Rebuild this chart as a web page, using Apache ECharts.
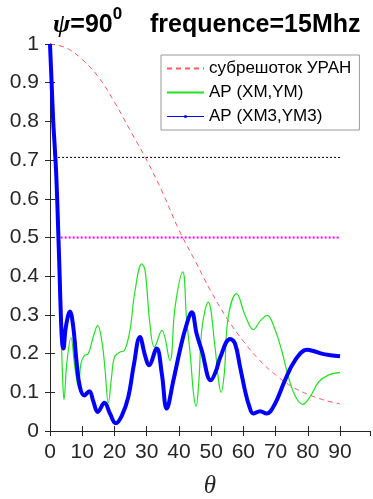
<!DOCTYPE html>
<html>
<head>
<meta charset="utf-8">
<script src="https://cdn.jsdelivr.net/npm/echarts@6/dist/echarts.min.js"></script>
<style>
  html, body { margin: 0; padding: 0; background: #fff; }
  #chart { width: 373px; height: 499px; }
</style>
</head>
<body>
<div id="chart"></div>
<script>
// subarray URAN pattern (red dashed)
const thetaUran = [0, 5, 10, 15, 20, 25, 30, 35, 40, 45, 50, 55, 60, 65, 70, 75, 80, 85, 90];
const valUran = [1.0, 0.99, 0.96, 0.915, 0.85, 0.775, 0.70, 0.615, 0.52, 0.44, 0.36, 0.29, 0.232, 0.183, 0.145, 0.115, 0.095, 0.08, 0.07];

// AP (XM,YM) (green)
const thetaXM = [0, 0.5, 1, 1.5, 2, 2.5, 3, 3.5, 3.9, 4.35, 5.2, 6.5, 7.7, 8.8, 9.6, 10.65, 11.9, 13.4, 14.8, 16.2, 17.1, 18.1, 19.1, 20, 21.7, 23.1, 24.8, 26.4, 28.5, 29.5, 31, 32.4, 34.7, 37.2, 38.8, 41.2, 42.4, 43.5, 44.5, 45.3, 46.2, 47.2, 49.1, 51.2, 52.3, 53.1, 54.1, 55.3, 57.9, 60.5, 63.1, 65.3, 67.4, 69.7, 71.9, 74, 76, 78.4, 80.8, 83.3, 86.5, 90];
const valXM = [1.0, 0.9, 0.8, 0.73, 0.65, 0.53, 0.4, 0.25, 0.14, 0.081, 0.174, 0.241, 0.165, 0.115, 0.174, 0.195, 0.2, 0.243, 0.273, 0.226, 0.157, 0.072, 0.139, 0.191, 0.204, 0.208, 0.26, 0.363, 0.432, 0.415, 0.277, 0.217, 0.26, 0.182, 0.32, 0.411, 0.286, 0.2, 0.1, 0.064, 0.13, 0.268, 0.333, 0.217, 0.13, 0.1, 0.15, 0.294, 0.355, 0.3, 0.262, 0.285, 0.299, 0.265, 0.208, 0.139, 0.092, 0.069, 0.09, 0.126, 0.145, 0.151];

// AP (XM3,YM3) (blue)
const thetaXM3 = [0, 0.5, 1, 1.5, 2, 2.5, 3, 3.4, 3.8, 4.15, 4.9, 6.2, 7.2, 8.3, 9.3, 10.65, 12.2, 13.5, 14.8, 16.9, 18.6, 20.4, 22.3, 24.3, 26, 27.9, 29.5, 30.7, 33.1, 34.7, 36.2, 38.3, 40.3, 42.2, 44, 45.5, 47.1, 49.9, 51.5, 52.8, 55.9, 57.4, 59, 60.5, 61.8, 63.1, 65.2, 67.2, 69.8, 72.9, 76, 79.7, 82, 84.3, 87, 90];
const valXM3 = [1.0, 0.9, 0.8, 0.73, 0.65, 0.53, 0.4, 0.29, 0.225, 0.213, 0.268, 0.309, 0.27, 0.174, 0.113, 0.092, 0.103, 0.075, 0.049, 0.073, 0.045, 0.02, 0.04, 0.088, 0.17, 0.243, 0.195, 0.17, 0.213, 0.148, 0.058, 0.131, 0.208, 0.27, 0.307, 0.251, 0.208, 0.131, 0.155, 0.19, 0.238, 0.226, 0.165, 0.105, 0.065, 0.045, 0.051, 0.045, 0.07, 0.131, 0.182, 0.21, 0.206, 0.2, 0.196, 0.193];

// reference levels
const level707 = [[2.5, 0.707], [90, 0.707]];
const level05 = [[3.3, 0.5], [90, 0.5]];

const zip = (xs, ys) => xs.map((x, i) => [x, ys[i]]);

const axisColor = "#262626";
const chart = echarts.init(document.getElementById("chart"), null, { renderer: "canvas" });

const option = {
  backgroundColor: "#fff",
  animation: false,
  title: {
    left: 53,
    top: 6,
    padding: 0,
    text: "{psi|ψ}{b|=90}{sup|0}{b|    frequence=15Mhz}",
    textStyle: {
      rich: {
        psi: { fontFamily: "Liberation Serif", fontStyle: "italic", fontSize: 26, color: "#000", lineHeight: 32, verticalAlign: "bottom" },
        b: { fontFamily: "Liberation Sans", fontWeight: "bold", fontSize: 25, color: "#000", lineHeight: 32, verticalAlign: "bottom" },
        sup: { fontFamily: "Liberation Sans", fontWeight: "bold", fontSize: 17, color: "#000", lineHeight: 12, verticalAlign: "top" }
      }
    }
  },
  legend: {
    orient: "vertical",
    left: 161,
    top: 55,
    padding: [5, 8, 5, 5],
    borderColor: "#999",
    borderWidth: 1,
    backgroundColor: "#fff",
    itemWidth: 37,
    itemHeight: 4,
    itemGap: 7,
    itemStyle: { opacity: 0 },
    data: [
      { name: "субрешоток УРАН" },
      { name: "AP (XM,YM)" },
      { name: "AP (XM3,YM3)", itemStyle: { opacity: 1 }, lineStyle: { width: 1.2 } }
    ],
    textStyle: { fontFamily: "Liberation Sans", fontSize: 17, color: "#000", lineHeight: 17 }
  },
  grid: { left: 50, right: 3, top: 44, bottom: 68, outerBoundsMode: "none", containLabel: false },
  xAxis: [
    {
      type: "value", min: 0, max: 99.3, interval: 10,
      name: "θ", nameLocation: "middle", nameGap: 43,
      nameTextStyle: { fontFamily: "Liberation Serif", fontStyle: "italic", fontSize: 25, color: axisColor },
      axisLine: { lineStyle: { color: axisColor, width: 1 } },
      axisTick: { inside: true, length: 5, lineStyle: { color: axisColor } },
      axisLabel: { showMaxLabel: false, margin: 11, fontFamily: "Liberation Sans", fontSize: 21, color: axisColor },
      splitLine: { show: false }
    },
    {
      type: "value", position: "top", min: 0, max: 99.3, interval: 10,
      axisLine: { lineStyle: { color: axisColor, width: 1 } },
      axisTick: { inside: true, length: 5, lineStyle: { color: axisColor } },
      axisLabel: { show: false },
      splitLine: { show: false }
    }
  ],
  yAxis: [
    {
      type: "value", min: 0, max: 1, interval: 0.1,
      axisLine: { show: true, lineStyle: { color: axisColor, width: 1 } },
      axisTick: { show: true, inside: true, length: 5, lineStyle: { color: axisColor } },
      axisLabel: { margin: 11, fontFamily: "Liberation Sans", fontSize: 21, color: axisColor },
      splitLine: { show: false }
    },
    {
      type: "value", position: "right", min: 0, max: 1, interval: 0.1,
      axisLine: { show: true, lineStyle: { color: axisColor, width: 1 } },
      axisTick: { show: true, inside: true, length: 5, lineStyle: { color: axisColor } },
      axisLabel: { show: false },
      splitLine: { show: false }
    }
  ],
  series: [
    {
      name: "субрешоток УРАН", type: "line", smooth: 0.4, symbol: "none",
      data: zip(thetaUran, valUran),
      lineStyle: { color: "#ff5a5a", width: 1, type: [5, 4] },
      itemStyle: { color: "#ff5a5a" }, z: 2
    },
    {
      name: "AP (XM,YM)", type: "line", smooth: 0.4, symbol: "none",
      data: zip(thetaXM, valXM),
      lineStyle: { color: "#22e022", width: 1.2 },
      itemStyle: { color: "#22e022" }, z: 3
    },
    {
      name: "AP (XM3,YM3)", type: "line", smooth: 0.4, symbol: "none",
      data: zip(thetaXM3, valXM3),
      lineStyle: { color: "#0000ff", width: 4 },
      itemStyle: { color: "#0000ff" }, z: 4
    },
    {
      name: "0.707", type: "line", symbol: "none", silent: true,
      data: level707,
      lineStyle: { color: "#000", width: 1, type: [2, 2] }, z: 1
    },
    {
      name: "0.5", type: "line", symbol: "none", silent: true,
      data: level05,
      lineStyle: { color: "#ff00ff", width: 2, type: [2, 2] }, z: 1
    }
  ]
};

chart.setOption(option);
</script>
</body>
</html>
